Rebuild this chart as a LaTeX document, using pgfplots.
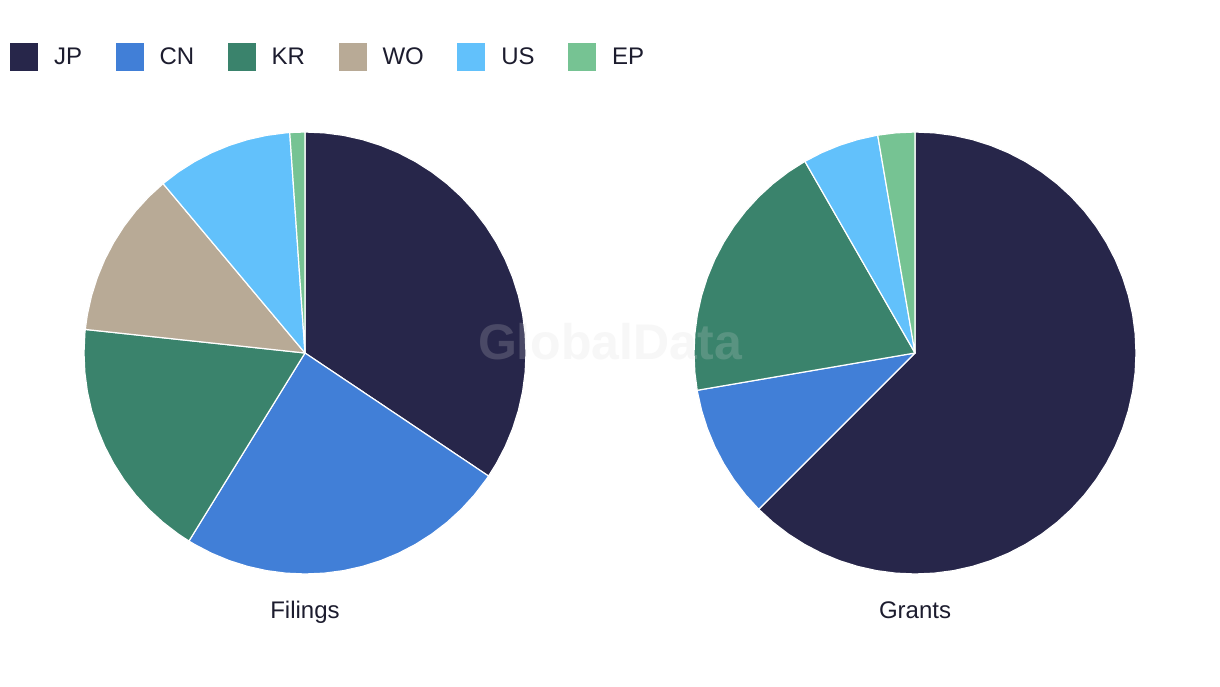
\documentclass[border=0pt]{standalone}
\usepackage{fontspec}
\setmainfont{Liberation Sans}
\usepackage{pgfplots}
\pgfplotsset{compat=1.18}
\definecolor{cJP}{HTML}{27264A}
\definecolor{cCN}{HTML}{417FD7}
\definecolor{cKR}{HTML}{3A836C}
\definecolor{cWO}{HTML}{B8AA96}
\definecolor{cUS}{HTML}{62C1FB}
\definecolor{cEP}{HTML}{76C393}
\definecolor{txt}{HTML}{1C1C2E}
\definecolor{wm}{HTML}{D7D7D7}
% Shares (percent) -> slice boundaries in degrees (clockwise from top)
% Filings: JP 34.4, CN 24.4, KR 17.9, WO 12.2, US 10.0, EP 1.1
% Grants:  JP 62.5, CN 9.8, KR 19.4, WO 0, US 5.6, EP 2.7
\pgfplotsset{
  pie/.style={scale only axis, width=442pt, height=442pt,
    xmin=-1, xmax=1, ymin=-1, ymax=1, hide axis, clip=false,
    anchor=center, data cs=polar},
  slice/.style={fill=#1, draw=white, line width=1.2pt, line join=round},
}
\begin{document}
\begin{tikzpicture}
\fill[white] (0pt,0pt) rectangle (1220pt,686pt);
\path[use as bounding box] (0pt,0pt) rectangle (1220pt,686pt);
\begin{axis}[pie, at={(305pt,333pt)},
  legend columns=6,
  legend image code/.code={\fill[#1,draw=none] (0pt,-14pt) rectangle (28pt,14pt);},
  legend style={at={(-0.16742,1.20136)}, anchor=north west, draw=none, fill=none,
    inner sep=0pt, outer sep=0pt, column sep=0pt,
    font=\fontsize{24}{28}\selectfont, text=txt,
    cells={anchor=west, inner sep=0pt},
    /tikz/every odd column/.append style={column sep=14pt},
    /tikz/every even column/.append style={column sep=31.5pt}},
]
\addplot[slice=cJP] coordinates {(0,0) (90,1) (85,1) (80,1) (75,1) (70,1) (65,1) (60,1) (55,1) (50,1) (45,1) (40,1) (35,1) (30,1) (25,1) (20,1) (15,1) (10,1) (5,1) (0,1) (-5,1) (-10,1) (-15,1) (-20,1) (-25,1) (-30,1) (-33.84,1)} -- cycle;
\addplot[slice=cCN] coordinates {(0,0) (-33.84,1) (-35,1) (-40,1) (-45,1) (-50,1) (-55,1) (-60,1) (-65,1) (-70,1) (-75,1) (-80,1) (-85,1) (-90,1) (-95,1) (-100,1) (-105,1) (-110,1) (-115,1) (-120,1) (-121.68,1)} -- cycle;
\addplot[slice=cKR] coordinates {(0,0) (-121.68,1) (-125,1) (-130,1) (-135,1) (-140,1) (-145,1) (-150,1) (-155,1) (-160,1) (-165,1) (-170,1) (-175,1) (-180,1) (-185,1) (-186.12,1)} -- cycle;
\addplot[slice=cWO] coordinates {(0,0) (-186.12,1) (-190,1) (-195,1) (-200,1) (-205,1) (-210,1) (-215,1) (-220,1) (-225,1) (-230.04,1)} -- cycle;
\addplot[slice=cUS] coordinates {(0,0) (-230.04,1) (-235,1) (-240,1) (-245,1) (-250,1) (-255,1) (-260,1) (-265,1) (-266.04,1)} -- cycle;
\addplot[slice=cEP] coordinates {(0,0) (-266.04,1) (-270,1)} -- cycle;
\legend{JP,CN,KR,WO,US,EP}
\end{axis}
\begin{axis}[pie, at={(915pt,333pt)}]
\addplot[slice=cJP] coordinates {(0,0) (90,1) (85,1) (80,1) (75,1) (70,1) (65,1) (60,1) (55,1) (50,1) (45,1) (40,1) (35,1) (30,1) (25,1) (20,1) (15,1) (10,1) (5,1) (0,1) (-5,1) (-10,1) (-15,1) (-20,1) (-25,1) (-30,1) (-35,1) (-40,1) (-45,1) (-50,1) (-55,1) (-60,1) (-65,1) (-70,1) (-75,1) (-80,1) (-85,1) (-90,1) (-95,1) (-100,1) (-105,1) (-110,1) (-115,1) (-120,1) (-125,1) (-130,1) (-135,1)} -- cycle;
\addplot[slice=cCN] coordinates {(0,0) (-135,1) (-140,1) (-145,1) (-150,1) (-155,1) (-160,1) (-165,1) (-170,1) (-170.28,1)} -- cycle;
\addplot[slice=cKR] coordinates {(0,0) (-170.28,1) (-175,1) (-180,1) (-185,1) (-190,1) (-195,1) (-200,1) (-205,1) (-210,1) (-215,1) (-220,1) (-225,1) (-230,1) (-235,1) (-240,1) (-240.12,1)} -- cycle;
\addplot[slice=cUS] coordinates {(0,0) (-240.12,1) (-245,1) (-250,1) (-255,1) (-260,1) (-260.28,1)} -- cycle;
\addplot[slice=cEP] coordinates {(0,0) (-260.28,1) (-265,1) (-270,1)} -- cycle;
\end{axis}
\node[text=txt, font=\fontsize{24}{28}\selectfont, anchor=base] at (305pt,68pt) {Filings};
\node[text=txt, font=\fontsize{24}{28}\selectfont, anchor=base] at (915pt,68pt) {Grants};
\node[text=wm, text opacity=0.2, font=\fontsize{50}{56}\selectfont\bfseries] at (610pt,344pt) {GlobalData};
\end{tikzpicture}
\end{document}
